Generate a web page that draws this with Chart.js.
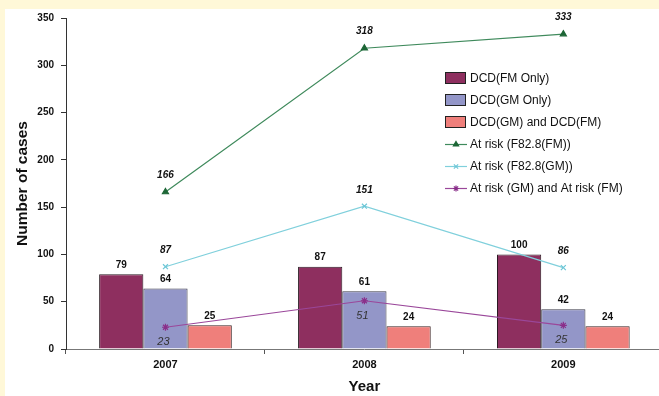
<!DOCTYPE html>
<html>
<head>
<meta charset="utf-8">
<script src="https://cdn.jsdelivr.net/npm/chart.js@4.4.1/dist/chart.umd.min.js"></script>
<style>
  html, body { margin: 0; padding: 0; background: #fff8d8; overflow: hidden; }
  #wrap { width: 659px; height: 396px; position: relative; overflow: hidden; }
</style>
</head>
<body>
<div id="wrap"><canvas id="chart" width="668" height="396"></canvas></div>
<script>
// ---- data ----
const years = ['2007', '2008', '2009'];
const dcdFmOnly = [79, 87, 100];
const dcdGmOnly = [64, 61, 42];
const dcdBoth = [25, 24, 24];
const riskFm = [166, 318, 333];
const riskGm = [87, 151, 86];
const riskBoth = [23, 51, 25];
const yTicks = [0, 50, 100, 150, 200, 250, 300, 350];

const FONT = '"Liberation Sans", Arial, sans-serif';

// page backdrop: cream frame with white panel
const backdrop = {
  id: 'backdrop',
  beforeDraw(chart) {
    const c = chart.ctx;
    c.save();
    c.fillStyle = '#fff8d8';
    c.fillRect(0, 0, chart.width, chart.height);
    c.fillStyle = '#ffffff';
    c.fillRect(5, 9, chart.width - 5, chart.height - 9);
    c.restore();
  }
};

// value labels above bars / near line points
const valueLabels = {
  id: 'valueLabels',
  afterDatasetsDraw(chart) {
    const c = chart.ctx;
    c.save();
    c.textAlign = 'center';
    c.textBaseline = 'middle';
    chart.data.datasets.forEach((ds, i) => {
      const meta = chart.getDatasetMeta(i);
      const lab = ds.labelStyle;
      c.font = lab.font;
      c.fillStyle = lab.color;
      meta.data.forEach((el, j) => {
        c.fillText(String(ds.data[j]), el.x + (lab.dx || 0), el.y + lab.dy);
      });
    });
    c.restore();
  }
};

// legend drawn inside the plot, like the original
const boxLegend = {
  id: 'boxLegend',
  afterDraw(chart) {
    const c = chart.ctx;
    const x = 445, y0 = 78, step = 22;
    c.save();
    c.font = '12px ' + FONT;
    c.textBaseline = 'middle';
    chart.data.datasets.forEach((ds, i) => {
      const y = y0 + i * step;
      if (ds.type === 'bar') {
        c.fillStyle = ds.backgroundColor;
        c.fillRect(x, y - 6, 21, 12);
        c.strokeStyle = '#222';
        c.lineWidth = 1;
        c.strokeRect(x + 0.5, y - 5.5, 20, 11);
      } else {
        c.strokeStyle = ds.borderColor;
        c.lineWidth = 1.2;
        c.beginPath();
        c.moveTo(x, y + 0.5);
        c.lineTo(x + 22, y + 0.5);
        c.stroke();
        c.fillStyle = ds.pointBackgroundColor;
        c.strokeStyle = ds.pointBorderColor;
        Chart.helpers.drawPoint(c, {
          pointStyle: ds.pointStyle, radius: 3, borderWidth: 1
        }, x + 11, y + 0.5);
      }
      c.fillStyle = '#111';
      c.fillText(ds.label, x + 25, y + 1);
    });
    c.restore();
  }
};

const barLabel = { font: 'bold 10px ' + FONT, color: '#111', dy: -9 };

new Chart(document.getElementById('chart'), {
  data: {
    labels: years,
    datasets: [
      { type: 'bar', label: 'DCD(FM Only)', data: dcdFmOnly, backgroundColor: '#8e2f5f',
        borderColor: '#2a1a22', borderWidth: 1, order: 2, labelStyle: barLabel },
      { type: 'bar', label: 'DCD(GM Only)', data: dcdGmOnly, backgroundColor: '#9396c8',
        borderColor: '#3a3a48', borderWidth: 1, order: 2, labelStyle: barLabel },
      { type: 'bar', label: 'DCD(GM) and DCD(FM)', data: dcdBoth, backgroundColor: '#ef7f7b',
        borderColor: '#3a2222', borderWidth: 1, order: 2, labelStyle: barLabel },
      { type: 'line', label: 'At risk (F82.8(FM))', data: riskFm, borderColor: '#3f8a5c',
        borderWidth: 1.2, pointStyle: 'triangle', pointRadius: 3.5,
        pointBackgroundColor: '#1d6636', pointBorderColor: '#1d6636', order: 1,
        labelStyle: { font: 'italic bold 10px ' + FONT, color: '#111', dy: -17 } },
      { type: 'line', label: 'At risk (F82.8(GM))', data: riskGm, borderColor: '#80d0dc',
        borderWidth: 1.2, pointStyle: 'crossRot', pointRadius: 3.5,
        pointBackgroundColor: '#6cc6d6', pointBorderColor: '#6cc6d6', order: 1,
        labelStyle: { font: 'italic bold 10px ' + FONT, color: '#111', dy: -16 } },
      { type: 'line', label: 'At risk (GM) and At risk (FM)', data: riskBoth, borderColor: '#9a479a',
        borderWidth: 1.2, pointStyle: 'star', pointRadius: 3.5,
        pointBackgroundColor: '#8a2f8a', pointBorderColor: '#8a2f8a', order: 1,
        labelStyle: { font: 'italic 11px ' + FONT, color: '#333', dx: -2, dy: 15 } }
    ]
  },
  options: {
    responsive: false,
    animation: false,
    devicePixelRatio: 1,
    layout: { padding: { left: 5, top: 18, right: 0, bottom: 0 } },
    datasets: { bar: { categoryPercentage: 0.667, barPercentage: 1 } },
    plugins: { legend: { display: false }, tooltip: { enabled: false } },
    scales: {
      x: {
        offset: true,
        afterFit(s) { s.height = 47; },
        grid: { offset: true, drawOnChartArea: false, drawTicks: true, tickLength: 5, color: '#555' },
        border: { color: '#777', width: 1 },
        ticks: { color: '#111', font: { family: FONT, size: 11, weight: 'bold' }, padding: 4 },
        title: { display: true, text: 'Year', color: '#111',
          font: { family: FONT, size: 15, weight: 'bold' }, padding: { top: 7, bottom: 0 } }
      },
      y: {
        min: 0, max: 350,
        afterFit(s) { s.width = 61; },
        afterBuildTicks(s) { s.ticks = yTicks.map(v => ({ value: v })); },
        grid: { drawOnChartArea: false, tickLength: 5, color: '#333' },
        border: { color: '#333', width: 1 },
        ticks: { color: '#111', font: { family: FONT, size: 10, weight: 'bold' }, padding: 7 },
        title: { display: true, text: 'Number of cases', color: '#111',
          font: { family: FONT, size: 15.5, weight: 'bold' }, padding: { top: 8, bottom: 0 } }
      }
    }
  },
  plugins: [backdrop, valueLabels, boxLegend]
});
</script>
</body>
</html>
